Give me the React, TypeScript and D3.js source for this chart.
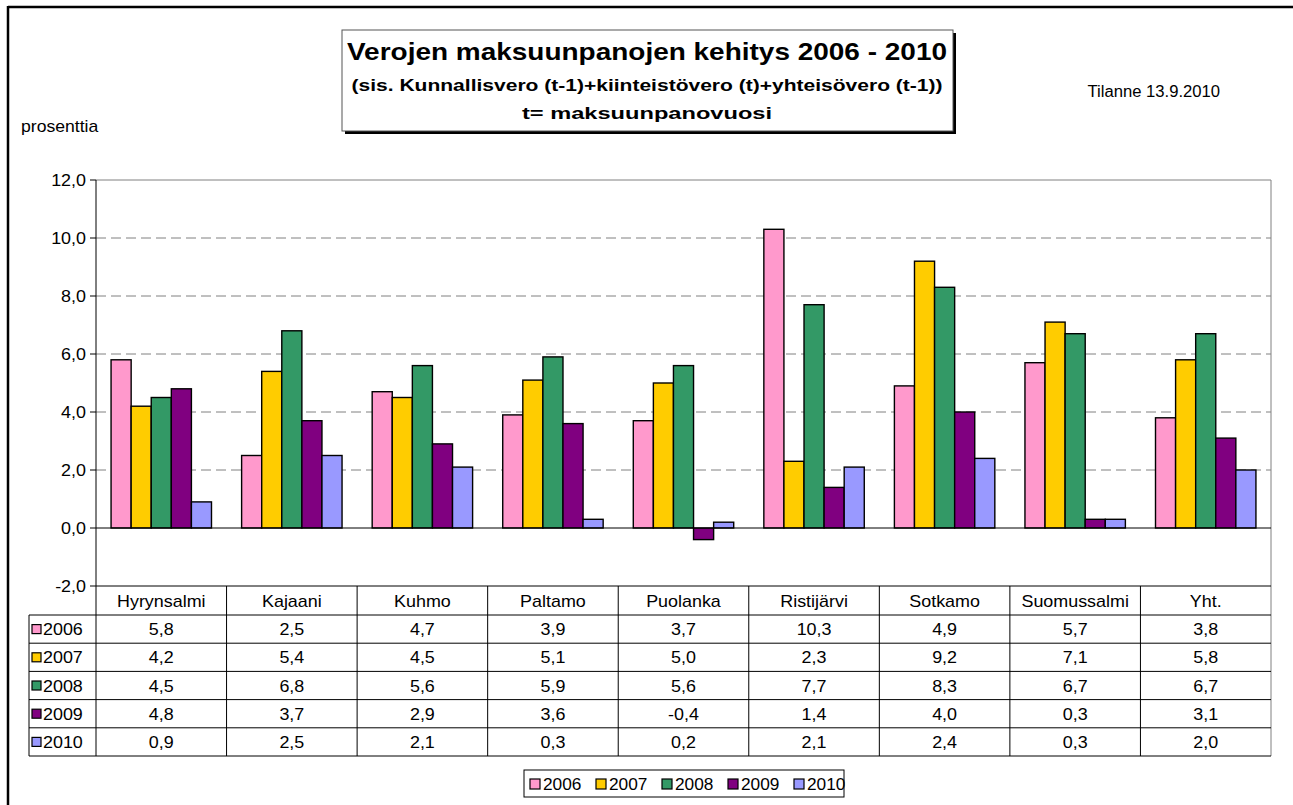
import React from 'react';
import * as d3 from 'd3';

const categories = ['Hyrynsalmi', 'Kajaani', 'Kuhmo', 'Paltamo', 'Puolanka', 'Ristijärvi', 'Sotkamo', 'Suomussalmi', 'Yht.'];
const years = ['2006', '2007', '2008', '2009', '2010'];
const v2006 = [5.8, 2.5, 4.7, 3.9, 3.7, 10.3, 4.9, 5.7, 3.8];
const v2007 = [4.2, 5.4, 4.5, 5.1, 5.0, 2.3, 9.2, 7.1, 5.8];
const v2008 = [4.5, 6.8, 5.6, 5.9, 5.6, 7.7, 8.3, 6.7, 6.7];
const v2009 = [4.8, 3.7, 2.9, 3.6, -0.4, 1.4, 4.0, 0.3, 3.1];
const v2010 = [0.9, 2.5, 2.1, 0.3, 0.2, 2.1, 2.4, 0.3, 2.0];
const yTicks = [-2, 0, 2, 4, 6, 8, 10, 12];
const colors = ['#FF99CC', '#FFCC00', '#339966', '#800080', '#9999FF'];

const series = [v2006, v2007, v2008, v2009, v2010];
const font = '"Liberation Sans", Arial, sans-serif';
const fmt = (v: number) => d3.format('.1f')(v).replace('.', ',').replace('−', '-');

// stretched text, the source image is a bit wider than it is tall
const T = ({ x, y, anchor = 'start', size = 16, weight = 'normal', sx = 1.12, children }: any) => (
  <text
    transform={`translate(${x},${y}) scale(${sx},1)`}
    textAnchor={anchor}
    fontSize={size}
    fontWeight={weight}
    fontFamily={font}
    fill="#000"
  >
    {children}
  </text>
);

const App = () => {
  const left = 96;
  const right = 1271;
  const y = d3.scaleLinear().domain([-2, 12]).range([586, 180]);
  const x = d3.scaleBand().domain(categories).range([left, right]);
  const inner = d3.scaleBand().domain(years).range([0, x.bandwidth()]).paddingOuter(0.75);

  const tableTop = 586;
  const headH = 29;
  const rowH = 28.2;
  const tableLeft = 29;
  const tableBottom = tableTop + headH + rowH * years.length;

  return (
    <svg width={1293} height={805} style={{ position: 'absolute', left: 0, top: 0, background: '#fff' }}>
      {/* outer frame */}
      <line x1={8} x2={1293} y1={7} y2={7} stroke="#000" strokeWidth={2.5} />
      <line x1={8} x2={8} y1={6} y2={805} stroke="#000" strokeWidth={2.5} />

      {/* title box */}
      <rect x={345} y={33} width={611} height={101} fill="#000" />
      <rect x={342} y={30} width={611} height={101} fill="#fff" stroke="#555" strokeWidth={1} />
      <text x={647} y={60} textAnchor="middle" fontSize={24} fontWeight="bold" fontFamily={font}
        textLength={600} lengthAdjust="spacingAndGlyphs">Verojen maksuunpanojen kehitys 2006 - 2010</text>
      <text x={647} y={91} textAnchor="middle" fontSize={17} fontWeight="bold" fontFamily={font}
        textLength={591} lengthAdjust="spacingAndGlyphs">(sis. Kunnallisvero (t-1)+kiinteistövero (t)+yhteisövero (t-1))</text>
      <text x={647} y={119} textAnchor="middle" fontSize={17} fontWeight="bold" fontFamily={font}
        textLength={250} lengthAdjust="spacingAndGlyphs">t= maksuunpanovuosi</text>

      <T x={1220} y={97} anchor="end" size={16} sx={1.04}>Tilanne 13.9.2010</T>
      <T x={21} y={132} sx={1.1}>prosenttia</T>

      {/* grid */}
      {yTicks.filter(t => t > 0 && t < 12).map(t => (
        <line key={t} x1={left} x2={right} y1={y(t)} y2={y(t)} stroke="#808080" strokeDasharray="10,5" />
      ))}
      <line x1={left} x2={right} y1={y(12)} y2={y(12)} stroke="#808080" />
      <line x1={right} x2={right} y1={y(12)} y2={tableBottom} stroke="#808080" />

      {/* bars */}
      {series.map((vals, s) => vals.map((v, i) => (
        <rect
          key={`${s}-${i}`}
          x={(x(categories[i]) as number) + (inner(years[s]) as number)}
          y={y(Math.max(0, v))}
          width={inner.bandwidth()}
          height={Math.abs(y(v) - y(0))}
          fill={colors[s]}
          stroke="#000"
          strokeWidth={1.4}
        />
      )))}

      <line x1={left} x2={right} y1={y(0)} y2={y(0)} stroke="#000" />

      {/* y axis */}
      <line x1={left} x2={left} y1={y(12)} y2={tableBottom} stroke="#000" />
      {yTicks.map(t => (
        <g key={t}>
          <line x1={left - 6} x2={left} y1={y(t)} y2={y(t)} stroke="#000" />
          <T x={86} y={y(t) + 6} anchor="end">{fmt(t)}</T>
        </g>
      ))}

      {/* data table */}
      <line x1={left} x2={right} y1={tableTop} y2={tableTop} stroke="#000" />
      {years.map((yr, r) => (
        <line key={yr} x1={tableLeft} x2={right} y1={tableTop + headH + rowH * r} y2={tableTop + headH + rowH * r} stroke="#000" />
      ))}
      <line x1={tableLeft} x2={right} y1={tableBottom} y2={tableBottom} stroke="#000" />
      <line x1={tableLeft} x2={tableLeft} y1={tableTop + headH} y2={tableBottom} stroke="#000" />
      {categories.slice(1).map(c => (
        <line key={c} x1={x(c)} x2={x(c)} y1={tableTop} y2={tableBottom} stroke="#000" />
      ))}
      {categories.map(c => (
        <T key={c} x={(x(c) as number) + x.bandwidth() / 2} y={tableTop + 21} anchor="middle">{c}</T>
      ))}
      {years.map((yr, r) => {
        const cy = tableTop + headH + rowH * r + rowH / 2;
        return (
          <g key={yr}>
            <rect x={32} y={cy - 4.5} width={9} height={9} fill={colors[r]} stroke="#000" strokeWidth={1.2} />
            <T x={43} y={cy + 6}>{yr}</T>
            {series[r].map((v, i) => (
              <T key={i} x={(x(categories[i]) as number) + x.bandwidth() / 2} y={cy + 6} anchor="middle">{fmt(v)}</T>
            ))}
          </g>
        );
      })}

      {/* legend */}
      <rect x={524} y={770} width={320} height={27} fill="#fff" stroke="#000" />
      {years.map((yr, i) => (
        <g key={yr}>
          <rect x={530 + i * 66} y={779} width={10} height={10} fill={colors[i]} stroke="#000" strokeWidth={1.2} />
          <T x={543 + i * 66} y={790} sx={1.08}>{yr}</T>
        </g>
      ))}
    </svg>
  );
};

export default App;
